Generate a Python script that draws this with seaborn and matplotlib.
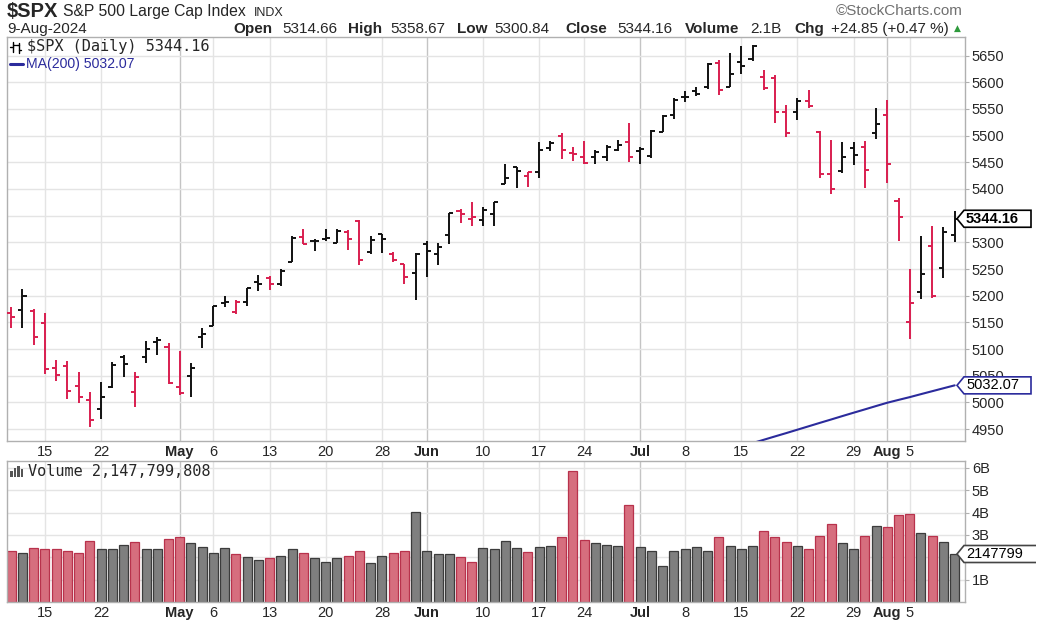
"""
plot.py - $SPX daily OHLC bars with MA(200) and a volume panel,
StockCharts style, 10-Apr-2024 .. 9-Aug-2024.
"""
import numpy as np
import pandas as pd
import matplotlib
matplotlib.use("Agg")
import matplotlib.pyplot as plt
from matplotlib.patches import Polygon, Rectangle
from matplotlib.lines import Line2D
from matplotlib.transforms import IdentityTransform
import seaborn as sns

W, H = 1047, 622

# ----------------------------- data ------------------------------------- #
holidays = ["2024-05-27", "2024-06-19", "2024-07-04"]
dates = [d for d in pd.bdate_range("2024-04-10", "2024-08-09")
         if d.strftime("%Y-%m-%d") not in holidays]

prev_close = 5209.91  # close of 9-Apr, only used to colour the first bar

opens = [5167.88, 5172.95, 5171.51, 5149.67, 5064.59, 5068.97, 5031.52, 5005.44,
         4987.33, 5028.85, 5084.86, 5019.88, 5084.65, 5114.13, 5103.78, 5029.03,
         5049.32, 5122.78, 5142.42, 5187.20, 5168.98, 5189.03, 5225.49, 5233.08,
         5221.10, 5263.26, 5310.07, 5303.10, 5305.35, 5298.69, 5319.28, 5340.26,
         5281.45, 5315.91, 5278.73, 5259.77, 5243.21, 5297.15, 5278.24, 5314.48,
         5357.80, 5343.81, 5341.22, 5353.00, 5409.13, 5441.93, 5424.08, 5431.11,
         5476.15, 5499.99, 5466.77, 5459.58, 5460.73, 5460.71, 5473.59, 5488.48,
         5471.08, 5461.84, 5507.44, 5537.91, 5572.75, 5584.24, 5591.26, 5635.21,
         5590.76, 5638.16, 5644.09, 5610.07, 5608.56, 5543.37, 5544.54, 5565.30,
         5505.84, 5428.70, 5433.67, 5476.55, 5478.73, 5505.59, 5537.84, 5376.63,
         5151.14, 5206.42, 5293.13, 5252.57, 5314.66]
highs = [5178.43, 5211.78, 5175.03, 5168.43, 5079.84, 5077.96, 5056.66, 5019.02,
         5038.84, 5076.12, 5089.48, 5057.75, 5114.62, 5123.49, 5110.83, 5096.12,
         5073.21, 5139.12, 5181.00, 5200.23, 5191.95, 5215.30, 5239.66, 5237.26,
         5250.37, 5311.76, 5325.49, 5305.45, 5325.32, 5324.32, 5323.18, 5341.88,
         5311.65, 5315.91, 5282.27, 5260.21, 5280.33, 5302.11, 5298.80, 5354.16,
         5362.35, 5375.08, 5365.79, 5375.95, 5447.25, 5441.93, 5432.39, 5488.50,
         5490.38, 5505.53, 5478.31, 5490.66, 5472.88, 5483.14, 5490.81, 5523.64,
         5479.55, 5509.69, 5539.27, 5570.33, 5583.11, 5590.75, 5635.39, 5642.45,
         5655.56, 5666.94, 5669.67, 5622.49, 5614.05, 5557.50, 5570.36, 5585.34,
         5508.04, 5491.59, 5488.32, 5487.74, 5489.46, 5551.51, 5566.16, 5383.89,
         5250.89, 5312.34, 5330.64, 5328.03, 5358.67]
lows = [5138.70, 5138.77, 5107.94, 5052.47, 5039.83, 5007.25, 4998.14, 4953.56,
        4969.40, 5027.96, 5047.02, 4990.58, 5073.14, 5088.65, 5035.31, 5013.45,
        5011.05, 5101.22, 5142.42, 5178.96, 5165.86, 5180.41, 5209.68, 5211.16,
        5217.98, 5263.26, 5296.19, 5283.59, 5302.40, 5297.87, 5286.01, 5256.93,
        5278.39, 5280.89, 5262.70, 5222.10, 5191.68, 5234.32, 5257.63, 5297.64,
        5335.36, 5331.33, 5331.52, 5331.33, 5409.13, 5402.51, 5403.75, 5420.40,
        5471.32, 5455.56, 5452.03, 5447.59, 5446.56, 5451.87, 5471.32, 5451.12,
        5446.53, 5458.43, 5507.42, 5531.63, 5562.51, 5574.57, 5586.44, 5576.53,
        5590.44, 5614.75, 5639.02, 5584.81, 5522.81, 5497.04, 5529.04, 5550.90,
        5419.98, 5390.95, 5430.70, 5444.44, 5401.71, 5493.75, 5410.42, 5302.03,
        5119.26, 5193.56, 5195.54, 5233.85, 5300.84]
closes = [5160.64, 5199.06, 5123.41, 5061.82, 5051.41, 5022.21, 5011.12, 4967.23,
          5010.60, 5070.55, 5071.63, 5048.42, 5099.96, 5116.17, 5035.69, 5018.39,
          5064.20, 5127.79, 5180.74, 5187.70, 5187.67, 5214.08, 5222.68, 5221.42,
          5246.68, 5308.15, 5297.10, 5303.27, 5308.13, 5321.41, 5307.01, 5267.84,
          5304.72, 5306.04, 5266.95, 5235.48, 5277.51, 5283.40, 5291.34, 5354.03,
          5352.96, 5346.99, 5360.79, 5375.32, 5421.03, 5433.74, 5431.60, 5473.23,
          5487.03, 5473.17, 5464.62, 5447.87, 5469.30, 5477.90, 5482.87, 5460.48,
          5475.09, 5509.01, 5537.02, 5567.19, 5572.85, 5576.98, 5633.91, 5584.54,
          5615.35, 5631.22, 5667.20, 5588.27, 5544.59, 5505.00, 5564.41, 5555.74,
          5427.13, 5399.22, 5459.10, 5463.54, 5436.44, 5522.30, 5446.68, 5346.56,
          5186.33, 5240.03, 5199.50, 5319.31, 5344.16]

# volume in billions of shares
volumes = [2.29, 2.21, 2.41, 2.36, 2.36, 2.29, 2.21, 2.75, 2.36, 2.36,
           2.54, 2.67, 2.36, 2.36, 2.82, 2.90, 2.62, 2.48, 2.21, 2.42,
           2.15, 2.02, 1.89, 1.96, 2.08, 2.35, 2.21, 1.95, 1.81, 1.95,
           2.08, 2.29, 1.75, 2.08, 2.21, 2.29, 4.03, 2.29, 2.15, 2.15,
           2.02, 1.81, 2.42, 2.35, 2.75, 2.42, 2.23, 2.44, 2.50, 2.90,
           5.86, 2.77, 2.63, 2.56, 2.50, 4.32, 2.44, 2.30, 1.63, 2.30,
           2.36, 2.44, 2.30, 2.90, 2.50, 2.36, 2.50, 3.17, 2.90, 2.69,
           2.50, 2.36, 2.96, 3.50, 2.63, 2.36, 2.96, 3.42, 3.36, 3.90,
           3.96, 3.09, 2.96, 2.69, 2.148]

# MA(200): only the part that shows above the bottom of the price panel
ma_start = "2024-07-15"
ma200 = [4917.5, 4923.8, 4930.1, 4936.4, 4942.6, 4949.0, 4955.4, 4961.8,
         4968.1, 4974.5, 4980.8, 4987.0, 4993.3, 4999.5, 5004.8, 5010.0,
         5015.6, 5021.1, 5026.6, 5032.07]

tick_dates = ["2024-04-15", "2024-04-22", "2024-05-01", "2024-05-06",
              "2024-05-13", "2024-05-20", "2024-05-28", "2024-06-03",
              "2024-06-10", "2024-06-17", "2024-06-24", "2024-07-01",
              "2024-07-08", "2024-07-15", "2024-07-22", "2024-07-29",
              "2024-08-01", "2024-08-05"]
tick_labels = ["15", "22", "May", "6", "13", "20", "28", "Jun", "10", "17",
               "24", "Jul", "8", "15", "22", "29", "Aug", "5"]
month_labels = {"May", "Jun", "Jul", "Aug"}

price_ticks = list(range(4950, 5651, 50))
price_hidden = {5350}          # covered by the last-price tag
volume_ticks = [1, 2, 3, 4, 5, 6]
volume_tick_labels = ["1B", "", "3B", "4B", "5B", "6B"]

# ----------------------------- styling ---------------------------------- #
RED = "#d91e4f"
BLACK = "#111111"
VOL_RED = "#d66e7e"
VOL_RED_EDGE = "#b8324c"
VOL_GRAY = "#7f7f7f"
VOL_GRAY_EDGE = "#3c3c3c"
NAVY = "#2b2b9c"
GRID = "#e4e4e4"
GRID_MONTH = "#c4c4c4"
FRAME = "#b0b0b0"

sns.set_style("white")
plt.rcParams["font.family"] = ["Liberation Sans", "DejaVu Sans"]


def fx(x):
    return x / W


def fy(y):
    return 1 - y / H


n = len(closes)
assert len(dates) == n
x = np.arange(n)
date_str = [d.strftime("%Y-%m-%d") for d in dates]
prior = [prev_close] + closes[:-1]
direction = ["down" if c < p else "up" for c, p in zip(closes, prior)]
bar_colors = [RED if d == "down" else BLACK for d in direction]
tick_pos = [date_str.index(d) for d in tick_dates]
xlim = (-0.38, 84.92)

fig = plt.figure(figsize=(W / 100, H / 100), dpi=100)
axp = fig.add_axes([fx(7), fy(441), (965 - 7) / W, (441 - 37) / H])
axv = fig.add_axes([fx(7), fy(602), (965 - 7) / W, (602 - 461) / H])

# ----------------------------- price panel ------------------------------ #
for pos, lab in zip(tick_pos, tick_labels):
    axp.axvline(pos, color=GRID_MONTH if lab in month_labels else GRID,
                lw=1.0, zorder=0)
for p in price_ticks:
    axp.axhline(p, color=GRID, lw=1.0, zorder=0)

tw = 0.36
axp.vlines(x, lows, highs, colors=bar_colors, lw=1.4, zorder=3)
axp.hlines(opens, x - tw, x, colors=bar_colors, lw=1.4, zorder=3)
axp.hlines(closes, x, x + tw, colors=bar_colors, lw=1.4, zorder=3)

ma_x = x[date_str.index(ma_start):]
sns.lineplot(x=ma_x, y=ma200, ax=axp, color=NAVY, lw=1.5, zorder=4)

axp.set_xlim(*xlim)
axp.set_ylim(4927.8, 5684.7)
axp.yaxis.tick_right()
axp.set_yticks(price_ticks)
axp.set_yticklabels(["" if p in price_hidden else str(p) for p in price_ticks])
axp.set_xticks(tick_pos)
axp.set_xticklabels(tick_labels)
axp.set_xticks(x, minor=True)
axp.tick_params(axis="y", length=3, color=FRAME, pad=2, labelsize=10.5)
axp.tick_params(axis="x", which="major", length=0, pad=3, labelsize=10.5)
axp.tick_params(axis="x", which="minor", length=2.5, direction="in",
                color="#9a9a9a", width=0.8)
axp.set_xlabel("")
axp.set_ylabel("")
for t in axp.get_xticklabels():
    if t.get_text() in month_labels:
        t.set_fontweight("bold")
for s in axp.spines.values():
    s.set_color(FRAME)
    s.set_linewidth(1.0)

# ----------------------------- volume panel ----------------------------- #
for pos, lab in zip(tick_pos, tick_labels):
    axv.axvline(pos, color=GRID_MONTH if lab in month_labels else GRID,
                lw=1.0, zorder=0)
for v in volume_ticks:
    axv.axhline(v, color=GRID, lw=1.0, zorder=0)

vol_df = pd.DataFrame({"i": x, "vol": volumes, "dir": direction})
sns.barplot(data=vol_df, x="i", y="vol", hue="dir",
            palette={"down": VOL_RED, "up": VOL_GRAY}, dodge=False,
            legend=False, width=0.8, saturation=1, ax=axv, zorder=2)
for patch in axv.patches:
    fc = matplotlib.colors.to_hex(patch.get_facecolor())
    patch.set_edgecolor(VOL_RED_EDGE if fc == VOL_RED else VOL_GRAY_EDGE)
    patch.set_linewidth(0.9)

axv.set_xlim(*xlim)
axv.set_ylim(0, 6.31)
axv.yaxis.tick_right()
axv.set_yticks(volume_ticks)
axv.set_yticklabels(volume_tick_labels)
axv.set_xticks(tick_pos)
axv.set_xticklabels(tick_labels)
axv.set_xticks(x, minor=True)
axv.tick_params(axis="y", length=3, color=FRAME, pad=2, labelsize=10.5)
axv.tick_params(axis="x", which="major", length=0, pad=3, labelsize=10.5)
axv.tick_params(axis="x", which="minor", length=2.5, direction="in",
                color="#9a9a9a", width=0.8)
axv.set_xlabel("")
axv.set_ylabel("")
for t in axv.get_xticklabels():
    if t.get_text() in month_labels:
        t.set_fontweight("bold")
for s in axv.spines.values():
    s.set_color(FRAME)
    s.set_linewidth(1.0)


# ----------------------------- value tags ------------------------------- #
def value_tag(ax, value, text, edge, bold=False, right=1031, open_end=False):
    yd = ax.transData.transform((0, value))[1]
    h = 8.5
    if open_end:
        pts = [(right, yd + h), (964, yd + h), (957, yd), (964, yd - h),
               (right, yd - h)]
    else:
        pts = [(957, yd), (964, yd + h), (right, yd + h), (right, yd - h),
               (964, yd - h)]
    fig.add_artist(Polygon(pts, closed=not open_end,
                           transform=IdentityTransform(),
                           facecolor="white", edgecolor=edge, lw=1.2,
                           zorder=10))
    fig.text(fx(966), yd / H, text, ha="left", va="center", fontsize=10.5,
             fontweight="bold" if bold else "normal", color="black",
             zorder=11)


value_tag(axp, closes[-1], "5344.16", "black", bold=True)
value_tag(axp, ma200[-1], "5032.07", NAVY)
value_tag(axv, volumes[-1], "2147799", "#444444", right=1036, open_end=True)

# ----------------------------- header text ------------------------------ #
fig.text(fx(7), fy(17), "$SPX", fontsize=14.5, fontweight="bold",
         va="baseline")
fig.text(fx(63), fy(16), "S&P 500 Large Cap Index", fontsize=11.3,
         va="baseline")
fig.text(fx(254), fy(16), "INDX", fontsize=9, va="baseline")
fig.text(fx(963), fy(15), "\u00a9StockCharts.com", fontsize=11,
         color="#707070", ha="right", va="baseline")
fig.text(fx(7), fy(33), "9-Aug-2024", fontsize=11, va="baseline")

header = [(233, "Open", True), (282, "5314.66", False),
          (348, "High", True), (390, "5358.67", False),
          (457, "Low", True), (494, "5300.84", False),
          (565, "Close", True), (617, "5344.16", False),
          (685, "Volume", True), (750, "2.1B", False),
          (794, "Chg", True), (831, "+24.85 (+0.47 %)", False)]
for hx, txt, bold in header:
    fig.text(fx(hx), fy(33), txt, fontsize=11,
             fontweight="bold" if bold else "normal", va="baseline")
fig.text(fx(957), fy(31), "\u25b2", fontsize=6.5, color="#2e9a3c",
         ha="center", va="baseline", family="DejaVu Sans")

# panel legends
fig.text(fx(27), fy(47), "$SPX (Daily) 5344.16", fontsize=11,
         family="DejaVu Sans Mono", va="center")
for gx, y0, y1, yo, yc in [(12.5, 42, 52, 47, 45), (18.5, 43, 53, 45, 50)]:
    fig.add_artist(Line2D([fx(gx), fx(gx)], [fy(y0), fy(y1)], color="black",
                          lw=1.0))
    fig.add_artist(Line2D([fx(gx - 2.5), fx(gx)], [fy(yo), fy(yo)],
                          color="black", lw=1.0))
    fig.add_artist(Line2D([fx(gx), fx(gx + 2.5)], [fy(yc), fy(yc)],
                          color="black", lw=1.0))
fig.add_artist(Line2D([fx(10), fx(23)], [fy(64), fy(64)], color=NAVY, lw=2.2))
fig.text(fx(26), fy(64), "MA(200) 5032.07", fontsize=10.2, color=NAVY,
         va="center")

fig.text(fx(28), fy(472), "Volume 2,147,799,808", fontsize=11,
         family="DejaVu Sans Mono", va="center")
for bx, top in [(10, 471), (13.5, 468), (17, 466), (20.5, 469)]:
    fig.add_artist(Rectangle((fx(bx), fy(477)), 2.5 / W, (477 - top) / H,
                             facecolor="#555555", edgecolor="none"))

fig.savefig("out.png", dpi=100)
